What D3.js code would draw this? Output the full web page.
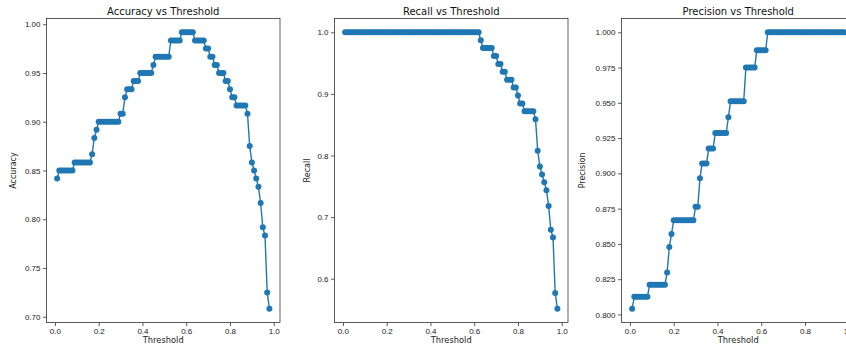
<!DOCTYPE html>
<html>
<head>
<meta charset="utf-8">
<script src="https://cdn.jsdelivr.net/npm/d3@7"></script>
<style>
  body { margin: 0; background: #fff; }
  svg { display: block; font-family: "DejaVu Sans", sans-serif; }
</style>
</head>
<body>
<svg id="chart" width="846" height="344"></svg>
<script>
// thresholds 0.01 .. 0.98
const thresholds = [
  0.01,0.02,0.03,0.04,0.05,0.06,0.07,0.08,0.09,0.10,
  0.11,0.12,0.13,0.14,0.15,0.16,0.17,0.18,0.19,0.20,
  0.21,0.22,0.23,0.24,0.25,0.26,0.27,0.28,0.29,0.30,
  0.31,0.32,0.33,0.34,0.35,0.36,0.37,0.38,0.39,0.40,
  0.41,0.42,0.43,0.44,0.45,0.46,0.47,0.48,0.49,0.50,
  0.51,0.52,0.53,0.54,0.55,0.56,0.57,0.58,0.59,0.60,
  0.61,0.62,0.63,0.64,0.65,0.66,0.67,0.68,0.69,0.70,
  0.71,0.72,0.73,0.74,0.75,0.76,0.77,0.78,0.79,0.80,
  0.81,0.82,0.83,0.84,0.85,0.86,0.87,0.88,0.89,0.90,
  0.91,0.92,0.93,0.94,0.95,0.96,0.97,0.98
];

const accuracy = [
  0.8417,0.85,0.85,0.85,0.85,0.85,0.85,0.85,0.8583,0.8583,
  0.8583,0.8583,0.8583,0.8583,0.8583,0.8583,0.8667,0.8833,0.8917,0.9,
  0.9,0.9,0.9,0.9,0.9,0.9,0.9,0.9,0.9,0.9083,
  0.9083,0.925,0.9333,0.9333,0.9333,0.9417,0.9417,0.9417,0.95,0.95,
  0.95,0.95,0.95,0.95,0.9583,0.9667,0.9667,0.9667,0.9667,0.9667,
  0.9667,0.9667,0.9833,0.9833,0.9833,0.9833,0.9833,0.9917,0.9917,0.9917,
  0.9917,0.9917,0.9917,0.9833,0.9833,0.9833,0.9833,0.9833,0.975,0.975,
  0.9667,0.9667,0.9583,0.9583,0.95,0.95,0.95,0.9417,0.9417,0.9333,
  0.925,0.925,0.9167,0.9167,0.9167,0.9167,0.9167,0.9083,0.875,0.8583,
  0.85,0.8417,0.8333,0.8167,0.7917,0.7833,0.725,0.7083
];

const recall = [
  1,1,1,1,1,1,1,1,1,1,
  1,1,1,1,1,1,1,1,1,1,
  1,1,1,1,1,1,1,1,1,1,
  1,1,1,1,1,1,1,1,1,1,
  1,1,1,1,1,1,1,1,1,1,
  1,1,1,1,1,1,1,1,1,1,
  1,1,0.9872,0.9744,0.9744,0.9744,0.9744,0.9744,0.9615,0.9615,
  0.9487,0.9487,0.9359,0.9359,0.9231,0.9231,0.9231,0.9103,0.9103,0.8974,
  0.8846,0.8846,0.8718,0.8718,0.8718,0.8718,0.8718,0.859,0.8077,0.7821,
  0.7692,0.7564,0.7436,0.7179,0.6795,0.6667,0.5769,0.5513
];

const precision = [
  0.8041,0.8125,0.8125,0.8125,0.8125,0.8125,0.8125,0.8125,0.8211,0.8211,
  0.8211,0.8211,0.8211,0.8211,0.8211,0.8211,0.8298,0.8478,0.8571,0.8667,
  0.8667,0.8667,0.8667,0.8667,0.8667,0.8667,0.8667,0.8667,0.8667,0.8764,
  0.8764,0.8966,0.907,0.907,0.907,0.9176,0.9176,0.9176,0.9286,0.9286,
  0.9286,0.9286,0.9286,0.9286,0.9398,0.9512,0.9512,0.9512,0.9512,0.9512,
  0.9512,0.9512,0.975,0.975,0.975,0.975,0.975,0.9873,0.9873,0.9873,
  0.9873,0.9873,1,1,1,1,1,1,1,1,
  1,1,1,1,1,1,1,1,1,1,
  1,1,1,1,1,1,1,1,1,1,
  1,1,1,1,1,1,1,1
];

const xTicks = [0, 0.2, 0.4, 0.6, 0.8, 1.0];
const accuracyTicks = [0.70, 0.75, 0.80, 0.85, 0.90, 0.95, 1.00];
const recallTicks = [0.6, 0.7, 0.8, 0.9, 1.0];
const precisionTicks = [0.800, 0.825, 0.850, 0.875, 0.900, 0.925, 0.950, 0.975, 1.000];

const Panels = [
  {title: "Accuracy vs Threshold", label: "Accuracy", values: accuracy, ticks: accuracyTicks, fmt: ".2f", left: 46.5, labelX: 13},
  {title: "Recall vs Threshold", label: "Recall", values: recall, ticks: recallTicks, fmt: ".1f", left: 334.5, labelX: 307},
  {title: "Precision vs Threshold", label: "Precision", values: precision, ticks: precisionTicks, fmt: ".3f", left: 621.5, labelX: 582}
];

const Width = 233.5;
const Top = 18.5;
const Bottom = 322.5;
const Blue = "#1f77b4";

const SVG = d3.select("#chart");

// matplotlib style 5% margin around the data
function padded(ext){
  const m = (ext[1]-ext[0])*0.05;
  return [ext[0]-m, ext[1]+m];
}

Panels.forEach(P=>{
  const X = d3.scaleLinear()
    .domain(padded(d3.extent(thresholds)))
    .range([P.left, P.left+Width]);
  const Y = d3.scaleLinear()
    .domain(padded(d3.extent(P.values)))
    .range([Bottom, Top]);

  const g = SVG.append("g");

  const XAxis = g.append("g")
    .attr("transform", `translate(0,${Bottom})`)
    .call(d3.axisBottom(X).tickValues(xTicks).tickFormat(d3.format(".1f")).tickSize(3.5).tickPadding(2.5));
  const YAxis = g.append("g")
    .attr("transform", `translate(${P.left},0)`)
    .call(d3.axisLeft(Y).tickValues(P.ticks).tickFormat(d3.format(P.fmt)).tickSize(3.5).tickPadding(2.5));

  [XAxis, YAxis].forEach(a=>{
    a.select(".domain").remove();
    a.selectAll(".tick line").attr("stroke","#333").attr("stroke-width",0.8);
    a.selectAll("text").attr("fill","#222").style("font-size","8px");
  });

  // data line + markers
  const pts = thresholds.map((t,i)=>[t, P.values[i]]);
  g.append("path")
    .datum(pts)
    .attr("fill","none")
    .attr("stroke",Blue)
    .attr("stroke-width",1.4)
    .attr("d", d3.line().x(d=>X(d[0])).y(d=>Y(d[1])));
  g.append("g")
    .selectAll("circle")
    .data(pts)
    .join("circle")
    .attr("cx",d=>X(d[0]))
    .attr("cy",d=>Y(d[1]))
    .attr("r",3)
    .attr("fill",Blue);

  // spines
  g.append("rect")
    .attr("x",P.left).attr("y",Top)
    .attr("width",Width).attr("height",Bottom-Top)
    .attr("fill","none").attr("stroke","#333").attr("stroke-width",0.8);

  g.append("text")
    .attr("x",P.left+Width/2).attr("y",Top-4)
    .attr("text-anchor","middle")
    .attr("fill","#111")
    .style("font-size","10px")
    .text(P.title);

  g.append("text")
    .attr("x",P.left+Width/2).attr("y",343)
    .attr("text-anchor","middle")
    .attr("fill","#222")
    .style("font-size","8.3px")
    .text("Threshold");

  g.append("text")
    .attr("transform",`translate(${P.labelX},${(Top+Bottom)/2}) rotate(-90)`)
    .attr("text-anchor","middle")
    .attr("dy","0.35em")
    .attr("fill","#222")
    .style("font-size","8px")
    .text(P.label);
});
</script>
</body>
</html>
